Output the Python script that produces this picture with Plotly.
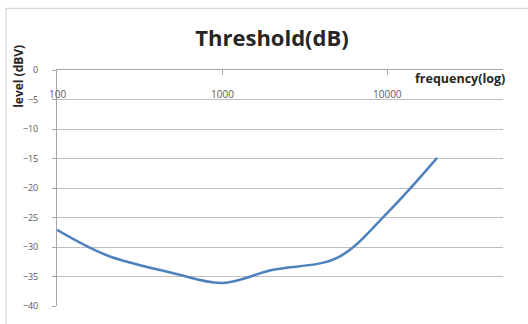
import math
import plotly.graph_objects as go

freq_hz = [100, 200, 500, 1000, 2000, 5000, 10000, 20000]
level_dbv = [-27.1, -31.4, -34.4, -36.1, -33.9, -31.8, -24.2, -14.9]
x_ticks = [100, 1000, 10000]
x_tick_text = ["100", "1000", "10000"]
y_ticks = [0, -5, -10, -15, -20, -25, -30, -35, -40]

title_text = "Threshold(dB)"
y_title = "level (dBV)"
x_title = "frequency(log)"

W, H = 528, 324
L, R, T, B = 57, 25, 70, 13
pw, ph = W - L - R, H - T - B

def px(x):
    return (x - L) / pw

def py(y):
    return (H - B - y) / ph

fig = go.Figure()
fig.add_trace(go.Scatter(
    x=freq_hz, y=level_dbv, mode="lines",
    line=dict(color="#4F81BD", width=2.5, shape="spline", smoothing=1.0),
    hoverinfo="skip", showlegend=False,
))

annotations = [
    dict(text="<b>" + y_title + "</b>", textangle=-90, xref="paper", yref="paper",
         x=px(19), y=py(77), xanchor="center", yanchor="middle", showarrow=False,
         font=dict(size=12, color="#262626")),
    dict(text="<b>" + x_title + "</b>", xref="paper", yref="paper",
         x=px(460), y=py(79), xanchor="center", yanchor="middle", showarrow=False,
         font=dict(size=12.5, color="#262626")),
]
for v, t in zip(x_ticks, x_tick_text):
    annotations.append(dict(text=t, xref="x", yref="paper", x=math.log10(v), y=py(94),
                            xanchor="center", yanchor="middle", showarrow=False,
                            font=dict(size=10, color="#595959")))

fig.update_layout(
    width=W, height=H,
    margin=dict(l=L, r=R, t=T, b=B),
    paper_bgcolor="white", plot_bgcolor="white",
    font=dict(family="Open Sans, Liberation Sans, sans-serif", color="#404040"),
    title=dict(text="<b>" + title_text + "</b>", x=272 / W, xanchor="center",
               y=1 - 38 / H, yanchor="middle", yref="container", xref="container",
               font=dict(size=22, color="#262626", family="Open Sans, sans-serif")),
    xaxis=dict(
        type="log", range=[2, 4.7], side="top",
        tickvals=x_ticks, showticklabels=False,
        ticks="inside", ticklen=5, tickcolor="#A6A6A6",
        showline=True, linecolor="#A6A6A6", linewidth=1,
        showgrid=False, zeroline=False, fixedrange=True,
    ),
    yaxis=dict(
        range=[-40, 0], tickvals=y_ticks,
        ticks="outside", ticklen=4, tickcolor="#A6A6A6",
        ticklabelstandoff=12, ticklabeloverflow="allow",
        tickfont=dict(size=9, color="#595959"),
        showline=True, linecolor="#A6A6A6", linewidth=1,
        showgrid=True, gridcolor="#BFBFBF", gridwidth=1,
        zeroline=False, fixedrange=True,
    ),
    annotations=annotations,
    shapes=[
        dict(type="rect", xref="paper", yref="paper",
             x0=px(6), x1=px(540), y0=py(340), y1=py(7),
             line=dict(color="#D0D0D0", width=1), fillcolor="rgba(0,0,0,0)", layer="below"),
    ],
)

fig.write_html("out.html", config={"displayModeBar": False},
               post_script="document.body.style.margin='0px';")
